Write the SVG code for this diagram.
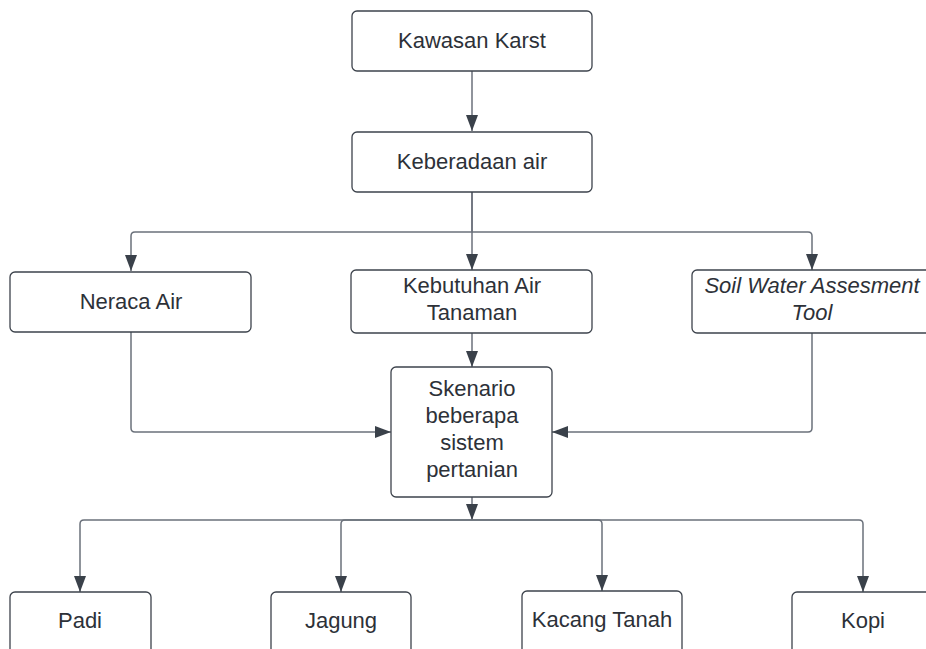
<svg xmlns="http://www.w3.org/2000/svg" width="926" height="649" viewBox="0 0 926 649">
<style>
.box{fill:#ffffff;stroke:#3d434c;stroke-width:1.3}
.t{font-family:"Liberation Sans",Arial,sans-serif;font-size:22px;fill:#2d3138;text-anchor:middle}
.it{font-style:italic}
.c{fill:none;stroke:#6b717b;stroke-width:1.5}
</style>
<defs>
<marker id="ah" markerUnits="userSpaceOnUse" markerWidth="17" markerHeight="14" viewBox="0 0 17 14" refX="16" refY="7" orient="auto">
<path d="M0,1 L16,7 L0,13 Z" fill="#3a414a"/>
</marker>
</defs>
<rect width="926" height="649" fill="#ffffff"/>
<g id="connectors">
<path class="c" d="M472,71 V131" marker-end="url(#ah)"/>
<path class="c" d="M472,192 V232 H135 Q131,232 131,236 V271" marker-end="url(#ah)"/>
<path class="c" d="M472,192 V270" marker-end="url(#ah)"/>
<path class="c" d="M472,232 H808 Q812,232 812,236 V270" marker-end="url(#ah)"/>
<path class="c" d="M472,333 V367" marker-end="url(#ah)"/>
<path class="c" d="M131,332 V428 Q131,432 135,432 H391" marker-end="url(#ah)"/>
<path class="c" d="M812,333 V428 Q812,432 808,432 H552" marker-end="url(#ah)"/>
<path class="c" d="M472,497 V520" marker-end="url(#ah)"/>
<path class="c" d="M472,520 H84 Q80,520 80,524 V592" marker-end="url(#ah)"/>
<path class="c" d="M472,520 H345 Q341,520 341,524 V592" marker-end="url(#ah)"/>
<path class="c" d="M472,520 H598 Q602,520 602,524 V591" marker-end="url(#ah)"/>
<path class="c" d="M472,520 H859 Q863,520 863,524 V592" marker-end="url(#ah)"/>
</g>
<g id="kawasan-karst">
<rect class="box" x="352" y="11" width="240" height="60" rx="5"/>
<text class="t" x="472" y="48">Kawasan Karst</text>
</g>
<g id="keberadaan-air">
<rect class="box" x="352" y="132" width="240" height="60" rx="5"/>
<text class="t" x="472" y="169">Keberadaan air</text>
</g>
<g id="neraca-air">
<rect class="box" x="10" y="272" width="241" height="60" rx="5"/>
<text class="t" x="131" y="309">Neraca Air</text>
</g>
<g id="kebutuhan-air-tanaman">
<rect class="box" x="351" y="270" width="241" height="63" rx="5"/>
<text class="t" x="472" y="293">Kebutuhan Air</text>
<text class="t" x="472" y="320">Tanaman</text>
</g>
<g id="swat">
<rect class="box" x="692" y="270" width="240" height="63" rx="5"/>
<text class="t it" x="812" y="293">Soil Water Assesment</text>
<text class="t it" x="812" y="320">Tool</text>
</g>
<g id="skenario">
<rect class="box" x="391" y="367" width="161" height="130" rx="5"/>
<text class="t" x="472" y="396">Skenario</text>
<text class="t" x="472" y="423">beberapa</text>
<text class="t" x="472" y="450">sistem</text>
<text class="t" x="472" y="477">pertanian</text>
</g>
<g id="padi">
<rect class="box" x="10" y="592" width="141" height="70" rx="5"/>
<text class="t" x="80" y="628">Padi</text>
</g>
<g id="jagung">
<rect class="box" x="271" y="592" width="140" height="70" rx="5"/>
<text class="t" x="341" y="628">Jagung</text>
</g>
<g id="kacang-tanah">
<rect class="box" x="522" y="591" width="160" height="70" rx="5"/>
<text class="t" x="602" y="627">Kacang Tanah</text>
</g>
<g id="kopi">
<rect class="box" x="792" y="592" width="142" height="70" rx="5"/>
<text class="t" x="863" y="628">Kopi</text>
</g>
</svg>
